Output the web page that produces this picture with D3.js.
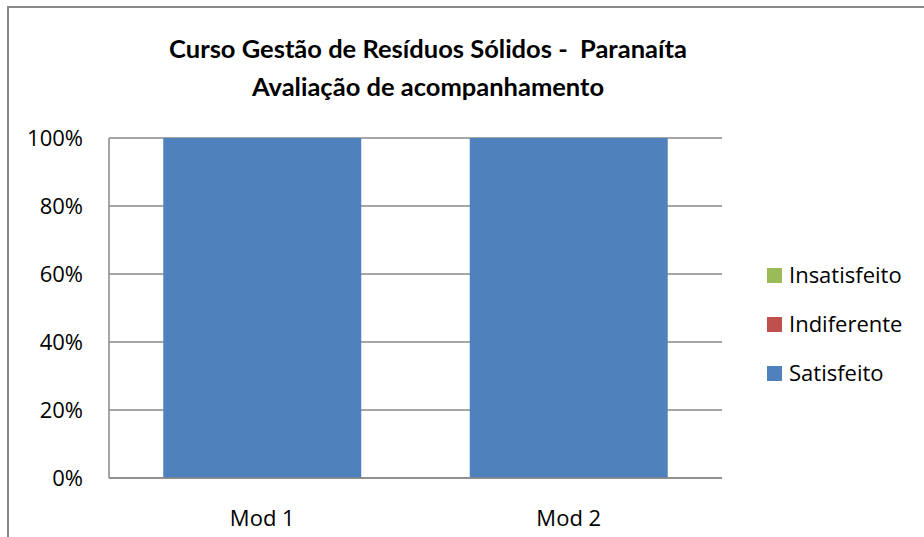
<!DOCTYPE html>
<html>
<head>
<meta charset="utf-8">
<script src="https://cdn.jsdelivr.net/npm/d3@7"></script>
<style>
  html, body { margin: 0; padding: 0; background: #fff; }
  svg { display: block; }
  text { font-family: "Open Sans", Lato, sans-serif; fill: #000; }
  .title { font-family: Lato, "Open Sans", sans-serif; white-space: pre; }
</style>
</head>
<body>
<div class="visualization"></div>
<script>
const categories = ["Mod 1", "Mod 2"];
const seriesNames = ["Satisfeito", "Indiferente", "Insatisfeito"];
const satisfeito = [1, 1];
const indiferente = [0, 0];
const insatisfeito = [0, 0];
const yTicks = [0, 0.2, 0.4, 0.6, 0.8, 1];
const titleLines = ["Curso Gestão de Resíduos Sólidos -  Paranaíta", "Avaliação de acompanhamento"];

const colors = { Satisfeito: "#4F81BD", Indiferente: "#C0504D", Insatisfeito: "#9BBB59" };

const width = 924, height = 537;
const plotLeft = 109, plotRight = 722, plotTop = 138, plotBottom = 478;

const rows = categories.map((c, i) => ({
  cat: c, Satisfeito: satisfeito[i], Indiferente: indiferente[i], Insatisfeito: insatisfeito[i]
}));

var svg = d3.select(".visualization").append("svg")
  .attr("width", width).attr("height", height);

// outer chart border (only left and top visible)
svg.append("path")
  .attr("d", "M8,537 L8,7 L924,7")
  .attr("fill", "none").attr("stroke", "#888").attr("stroke-width", 2);

var x = d3.scaleBand().domain(categories).range([plotLeft, plotRight])
  .paddingInner(0.354).paddingOuter(0.177);
var y = d3.scaleLinear().domain([0, 1]).range([plotBottom, plotTop]);

// gridlines
svg.append("g").selectAll("line").data(yTicks).enter().append("line")
  .attr("x1", plotLeft).attr("x2", plotRight)
  .attr("y1", d => y(d)).attr("y2", d => y(d))
  .attr("stroke", "#888").attr("stroke-width", 1.5);

// y axis line
svg.append("line")
  .attr("x1", plotLeft).attr("x2", plotLeft)
  .attr("y1", plotTop).attr("y2", plotBottom)
  .attr("stroke", "#888").attr("stroke-width", 1.5);

// stacked bars
var stack = d3.stack().keys(seriesNames)(rows);
svg.append("g").selectAll("g").data(stack).enter().append("g")
  .attr("fill", d => colors[d.key])
  .selectAll("rect").data(d => d).enter().append("rect")
  .attr("x", d => x(d.data.cat))
  .attr("width", x.bandwidth())
  .attr("y", d => y(d[1]))
  .attr("height", d => y(d[0]) - y(d[1]));

// redraw baseline over bars
svg.append("line")
  .attr("x1", plotLeft).attr("x2", plotRight)
  .attr("y1", y(0)).attr("y2", y(0))
  .attr("stroke", "#888").attr("stroke-width", 1.5);

// y tick labels
svg.append("g").selectAll("text").data(yTicks).enter().append("text")
  .attr("x", 83).attr("y", d => y(d))
  .attr("dy", "0.35em")
  .attr("text-anchor", "end")
  .attr("font-size", 22)
  .text(d3.format(".0%"));

// x labels
svg.append("g").selectAll("text").data(categories).enter().append("text")
  .attr("x", d => x(d) + x.bandwidth() / 2)
  .attr("y", 518).attr("dy", "0.35em")
  .attr("text-anchor", "middle")
  .attr("font-size", 22)
  .text(d => d);

// title
svg.append("g").selectAll("text").data(titleLines).enter().append("text")
  .attr("class", "title")
  .attr("x", 428).attr("y", (d, i) => 49 + i * 38)
  .attr("dy", "0.35em")
  .attr("text-anchor", "middle")
  .attr("font-size", 25.5).attr("font-weight", "bold")
  .text(d => d);

// legend
var legendItems = seriesNames.slice().reverse();
var legend = svg.append("g").selectAll("g").data(legendItems).enter().append("g")
  .attr("transform", (d, i) => "translate(767," + (275 + i * 49) + ")");
legend.append("rect")
  .attr("x", 0).attr("y", -7).attr("width", 15).attr("height", 15)
  .attr("fill", d => colors[d]);
legend.append("text")
  .attr("x", 22).attr("y", 0).attr("dy", "0.35em")
  .attr("font-size", 22)
  .text(d => d);
</script>
</body>
</html>
